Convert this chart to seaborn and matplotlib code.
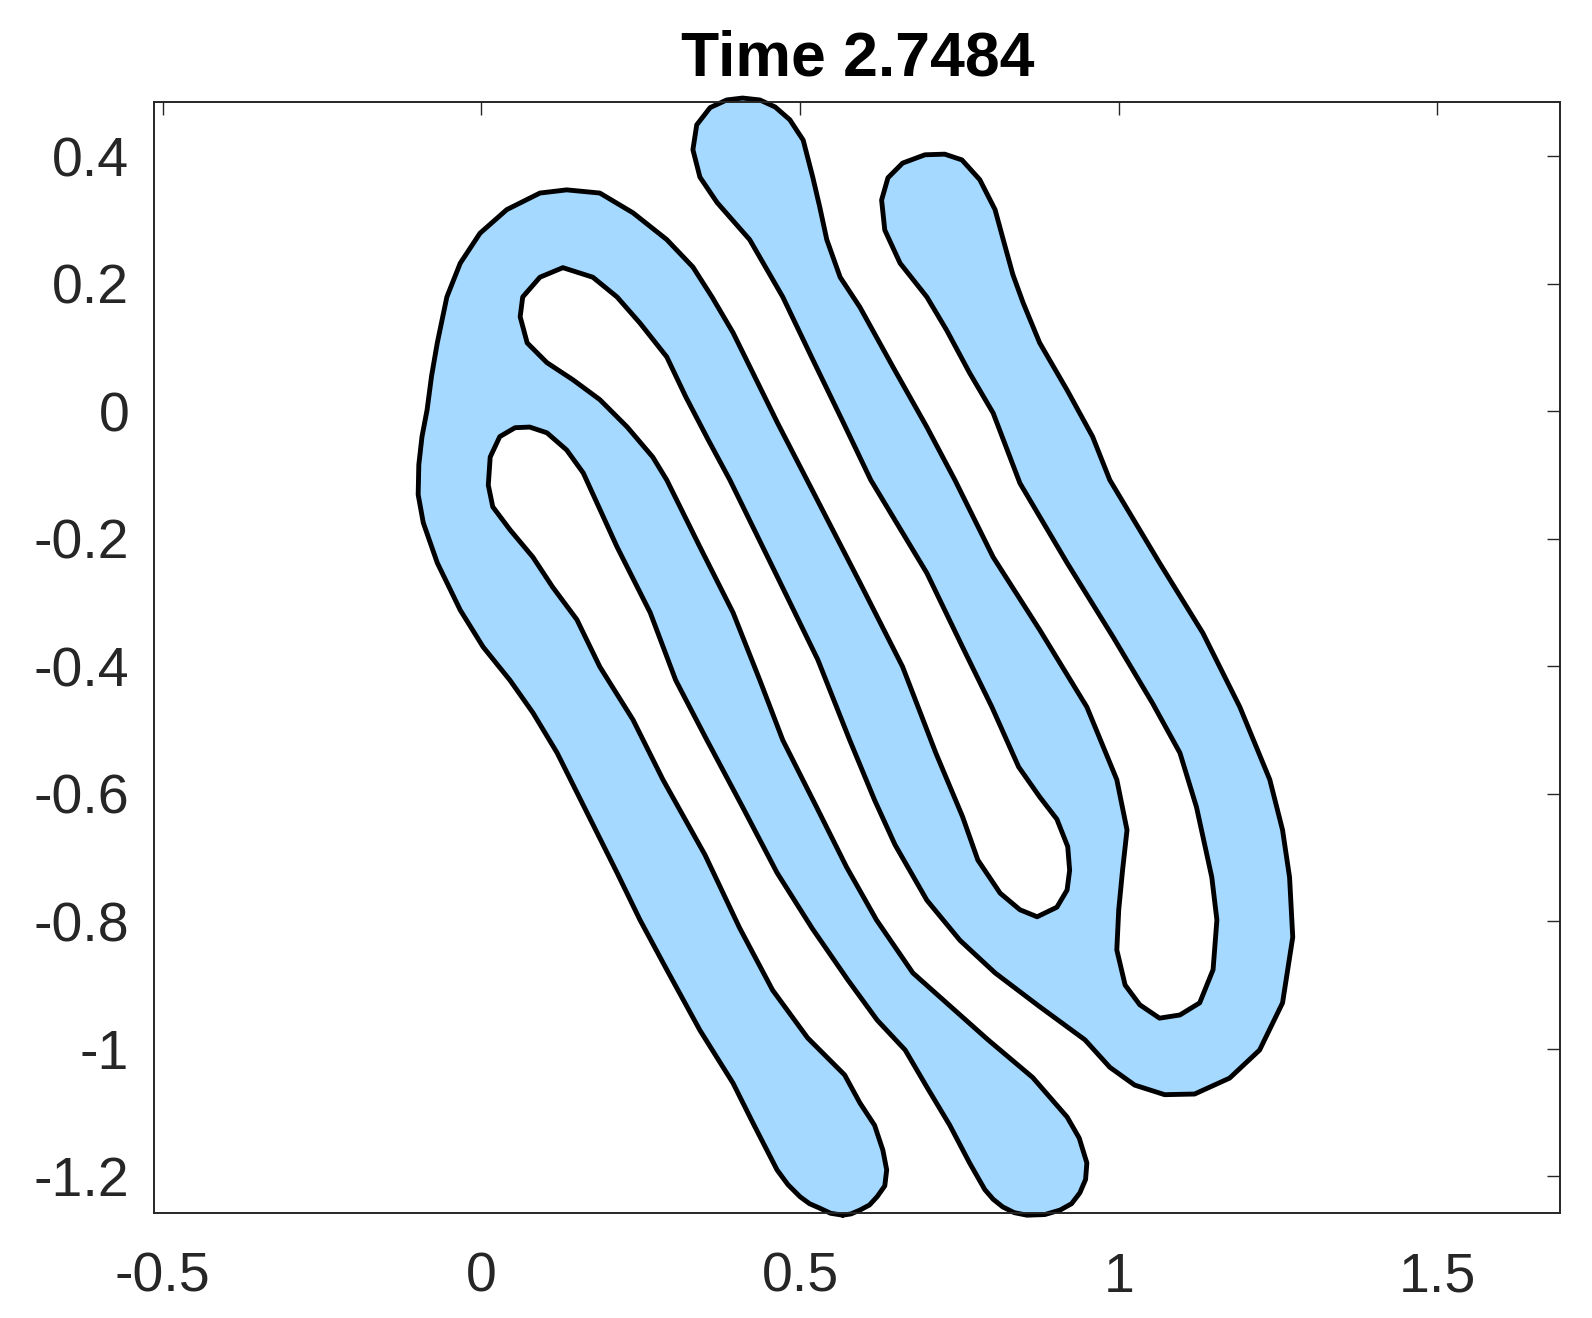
import numpy as np
import matplotlib
matplotlib.use("Agg")
import matplotlib.pyplot as plt
import seaborn as sns

# Outline of the blob, traced in data coordinates, walked as one closed curve.
# Outer-left edge from tip A, over the top-left bend, down to the bottom of the third gap
outer_left_x = [0.567, 0.548, 0.531, 0.515, 0.500, 0.481, 0.464, 0.426, 0.395, 0.343, 0.291, 0.249,
                0.213, 0.166, 0.119, 0.081, 0.045, 0.003, -0.033, -0.069, -0.091, -0.099, -0.098,
                -0.093, -0.085, -0.078, -0.069, -0.054, -0.033, -0.002, 0.040, 0.092, 0.134, 0.186,
                0.238, 0.291, 0.332, 0.362, 0.395, 0.426, 0.465, 0.511, 0.594, 0.661, 0.713, 0.755,
                0.779, 0.814, 0.845, 0.872, 0.903, 0.919, 0.923]
outer_left_y = [-1.261, -1.258, -1.250, -1.243, -1.232, -1.213, -1.190, -1.116, -1.054, -0.971,
                -0.876, -0.798, -0.724, -0.630, -0.536, -0.473, -0.422, -0.370, -0.312, -0.238,
                -0.175, -0.131, -0.084, -0.040, 0.002, 0.055, 0.107, 0.179, 0.232, 0.279, 0.316,
                0.342, 0.347, 0.342, 0.311, 0.269, 0.226, 0.179, 0.123, 0.060, -0.019, -0.108,
                -0.269, -0.401, -0.536, -0.636, -0.704, -0.756, -0.782, -0.793, -0.778, -0.751, -0.720]

# Up to tip C, round it, down to the bottom of the fourth gap
tip_c_x = [0.920, 0.903, 0.876, 0.843, 0.801, 0.755, 0.699, 0.611, 0.566, 0.518, 0.473, 0.421, 0.370,
           0.343, 0.332, 0.338, 0.359, 0.385, 0.410, 0.437, 0.461, 0.484, 0.505, 0.520, 0.531, 0.542,
           0.563, 0.594, 0.646, 0.699, 0.743, 0.803, 0.876, 0.950, 0.997, 1.013, 1.006, 1.000, 0.997,
           1.010, 1.033, 1.064, 1.096, 1.127, 1.148, 1.154, 1.146]
tip_c_y = [-0.683, -0.640, -0.605, -0.558, -0.464, -0.370, -0.254, -0.108, -0.014, 0.085, 0.179,
           0.269, 0.327, 0.367, 0.410, 0.449, 0.476, 0.488, 0.491, 0.488, 0.477, 0.457, 0.425, 0.367,
           0.320, 0.269, 0.210, 0.163, 0.069, -0.025, -0.108, -0.229, -0.343, -0.464, -0.578, -0.657,
           -0.720, -0.782, -0.845, -0.900, -0.931, -0.952, -0.947, -0.928, -0.876, -0.798, -0.731]

# Up to tip D, round it, down the outer right edge and round the bottom-right bend
tip_d_x = [1.122, 1.096, 1.053, 0.991, 0.919, 0.845, 0.803, 0.766, 0.730, 0.699, 0.657, 0.633, 0.628,
           0.638, 0.661, 0.696, 0.727, 0.754, 0.782, 0.806, 0.821, 0.834, 0.850, 0.876, 0.919, 0.959,
           0.986, 1.064, 1.132, 1.190, 1.237, 1.257, 1.268, 1.273, 1.257, 1.221, 1.174, 1.119, 1.072,
           1.025, 0.986]
tip_d_y = [-0.621, -0.536, -0.458, -0.354, -0.238, -0.113, -0.003, 0.060, 0.127, 0.179, 0.232, 0.284,
           0.331, 0.366, 0.389, 0.402, 0.403, 0.394, 0.363, 0.316, 0.261, 0.214, 0.170, 0.107, 0.033,
           -0.040, -0.108, -0.238, -0.348, -0.464, -0.578, -0.657, -0.731, -0.825, -0.928, -1.002,
           -1.046, -1.071, -1.072, -1.057, -1.029]

# Up the second gap to its closed end, back down to tip B
tip_b_x = [0.947, 0.876, 0.806, 0.751, 0.699, 0.649, 0.617, 0.578, 0.528, 0.467, 0.390, 0.356, 0.321,
           0.291, 0.249, 0.213, 0.175, 0.128, 0.092, 0.065, 0.061, 0.072, 0.103, 0.144, 0.186, 0.229,
           0.269, 0.291, 0.343, 0.395, 0.437, 0.473, 0.526, 0.573, 0.620, 0.677, 0.795, 0.865, 0.919,
           0.938, 0.950, 0.948, 0.939, 0.926, 0.908, 0.884, 0.856]
tip_b_y = [-0.986, -0.934, -0.881, -0.830, -0.767, -0.680, -0.610, -0.516, -0.390, -0.265, -0.108,
           -0.045, 0.022, 0.085, 0.138, 0.179, 0.210, 0.225, 0.210, 0.179, 0.148, 0.107, 0.076, 0.049,
           0.018, -0.025, -0.072, -0.108, -0.213, -0.316, -0.422, -0.516, -0.621, -0.715, -0.798,
           -0.881, -0.986, -1.045, -1.107, -1.140, -1.179, -1.205, -1.226, -1.243, -1.253, -1.260, -1.261]

# Up the first gap to its closed end, back down to tip A
gap_a_x = [0.836, 0.818, 0.803, 0.790, 0.766, 0.735, 0.699, 0.665, 0.621, 0.575, 0.519, 0.464, 0.410,
           0.354, 0.305, 0.265, 0.213, 0.170, 0.160, 0.134, 0.103, 0.076, 0.053, 0.029, 0.014, 0.011,
           0.018, 0.045, 0.081, 0.112, 0.150, 0.186, 0.238, 0.285, 0.351, 0.405, 0.457, 0.512, 0.570,
           0.594, 0.617, 0.630, 0.636, 0.633, 0.621, 0.609, 0.594, 0.580]
gap_a_y = [-1.257, -1.248, -1.236, -1.221, -1.179, -1.120, -1.060, -1.002, -0.955, -0.892, -0.811,
           -0.724, -0.621, -0.516, -0.422, -0.316, -0.213, -0.119, -0.097, -0.061, -0.034, -0.025,
           -0.026, -0.040, -0.072, -0.116, -0.150, -0.186, -0.229, -0.276, -0.327, -0.401, -0.484,
           -0.578, -0.696, -0.810, -0.908, -0.983, -1.041, -1.085, -1.120, -1.159, -1.190, -1.215,
           -1.232, -1.245, -1.253, -1.259]

title = "Time 2.7484"
x_ticks = [-0.5, 0, 0.5, 1, 1.5]
x_labels = ["-0.5", "0", "0.5", "1", "1.5"]
y_ticks = [0.4, 0.2, 0, -0.2, -0.4, -0.6, -0.8, -1, -1.2]
y_labels = ["0.4", "0.2", "0", "-0.2", "-0.4", "-0.6", "-0.8", "-1", "-1.2"]

sns.set_theme(style="white")
plt.rcParams["font.family"] = ["Liberation Sans", "DejaVu Sans"]
plt.rcParams["axes.unicode_minus"] = False

xs = np.concatenate([outer_left_x, tip_c_x, tip_d_x, tip_b_x, gap_a_x])
ys = np.concatenate([outer_left_y, tip_c_y, tip_d_y, tip_b_y, gap_a_y])
# close the loop
xs_c = np.append(xs, xs[0])
ys_c = np.append(ys, ys[0])

fig = plt.figure(figsize=(15.92, 13.18), dpi=100)
ax = fig.add_axes([0.0969, 0.0797, 0.8833, 0.8432])

ax.fill(xs, ys, facecolor="#A6D9FF", edgecolor="none", zorder=1, clip_on=False)
sns.lineplot(x=xs_c, y=ys_c, sort=False, estimator=None, color="black", lw=3.5,
             ax=ax, zorder=2, clip_on=False)
ax.lines[-1].set_solid_joinstyle("round")

ax.set_xlim(-0.513, 1.693)
ax.set_ylim(-1.2575, 0.4854)
ax.set_xticks(x_ticks)
ax.set_xticklabels(x_labels)
ax.set_yticks(y_ticks)
ax.set_yticklabels(y_labels)

ax.tick_params(direction="in", length=9.5, width=1.0, top=True, right=True,
               labelsize=40, color="#262626", labelcolor="#262626")
ax.tick_params(axis="x", pad=28)
ax.tick_params(axis="y", pad=18)
for sp in ax.spines.values():
    sp.set_visible(True)
    sp.set_linewidth(1.4)
    sp.set_color("#262626")

ax.set_title(title, fontsize=45, fontweight="bold", pad=19, color="black")
ax.grid(False)

fig.savefig("out.png", dpi=100)
plt.close(fig)
